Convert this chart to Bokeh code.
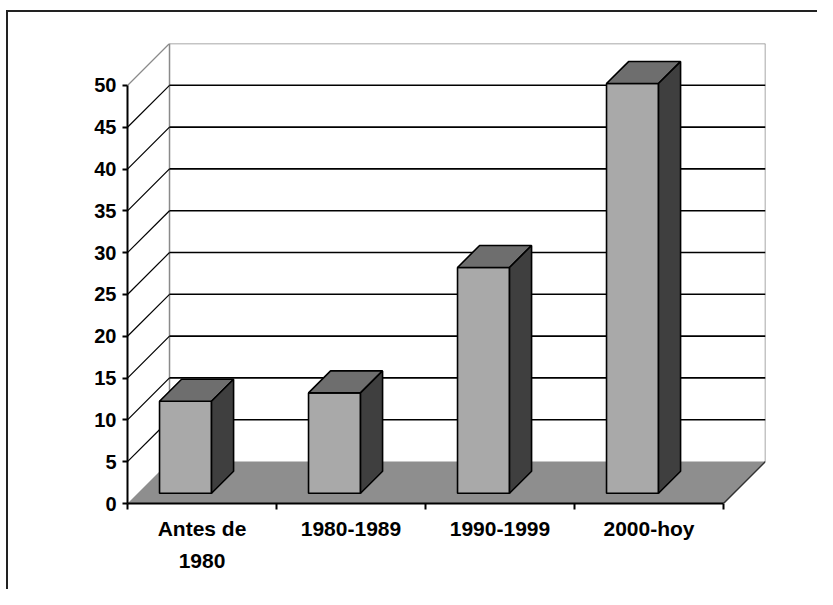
from bokeh.plotting import figure
from bokeh.models import Range1d, FixedTicker, LinearAxis, ColumnDataSource
from bokeh.embed import file_html
from bokeh.resources import INLINE

# ---- data ----
categories = ["Antes de 1980", "1980-1989", "1990-1999", "2000-hoy"]
label_line1 = ["Antes de", "1980-1989", "1990-1999", "2000-hoy"]
label_line2 = ["1980", "", "", ""]
values = [11, 12, 27, 49]
y_ticks = [0, 5, 10, 15, 20, 25, 30, 35, 40, 45, 50]

# ---- 3D geometry (data units) ----
N = len(categories)
YMAX = y_ticks[-1]
DX, DY = 0.282, 5.02          # back-wall depth offset
BAR_OFF, BAR_W = 0.215, 0.349 # front face position inside a category
BAR_BASE = 1.23               # front face bottom (depth shift)
BDX, BDY = 0.148, 2.63        # bar depth

FONT = "Liberation Sans"

p = figure(width=817, height=589, output_backend="svg", toolbar_location=None,
           x_range=Range1d(0, N + DX), y_range=Range1d(0, YMAX + DY),
           x_axis_type=None, y_axis_type=None,
           min_border_left=127, min_border_right=52, min_border_top=43, min_border_bottom=86)
p.outline_line_color = None
p.background_fill_color = "white"
p.border_fill_color = None
p.styles = {"box-shadow": ("inset 0px 10px 0px 0px #ffffff, inset 6px 0px 0px 0px #ffffff, "
                           "inset 0px 12px 0px 0px #222222, inset 8px 0px 0px 0px #222222")}

wall = "#8a8a8a"
# back wall frame
p.segment(x0=[DX, N + DX, DX], y0=[DY, DY, YMAX + DY], x1=[DX, N + DX, N + DX],
          y1=[YMAX + DY, YMAX + DY, YMAX + DY], line_color=wall, line_width=1.5)
# back wall gridlines
g = y_ticks[1:-1]
p.segment(x0=[DX] * len(g), y0=[v + DY for v in g], x1=[N + DX] * len(g),
          y1=[v + DY for v in g], line_color="black", line_width=1.6)
# left wall diagonals
p.segment(x0=[0] * len(g), y0=g, x1=[DX] * len(g), y1=[v + DY for v in g],
          line_color="black", line_width=1.2)
p.segment(x0=[0], y0=[YMAX], x1=[DX], y1=[YMAX + DY], line_color=wall, line_width=1.2)
# floor
p.patch(x=[0, N, N + DX, DX], y=[0, 0, DY, DY], fill_color="#8e8e8e", line_color=None)
p.segment(x0=[N], y0=[0], x1=[N + DX], y1=[DY], line_color="#333333", line_width=1.5)

# bars
left = [i + BAR_OFF for i in range(N)]
right = [l + BAR_W for l in left]
top = [BAR_BASE + v for v in values]
src = ColumnDataSource(dict(left=left, right=right, bottom=[BAR_BASE] * N, top=top))
p.quad(left="left", right="right", bottom="bottom", top="top", source=src,
       fill_color="#a9a9a9", line_color="black", line_width=1.6)
top_xs = [[l, r, r + BDX, l + BDX] for l, r in zip(left, right)]
top_ys = [[t, t, t + BDY, t + BDY] for t in top]
p.patches(xs=top_xs, ys=top_ys, fill_color="#6e6e6e", line_color="black", line_width=1.6)
side_xs = [[r, r + BDX, r + BDX, r] for r in right]
side_ys = [[BAR_BASE, BAR_BASE + BDY, t + BDY, t] for t in top]
p.patches(xs=side_xs, ys=side_ys, fill_color="#3f3f3f", line_color="black", line_width=1.6)

# y axis
ya = LinearAxis(ticker=FixedTicker(ticks=y_ticks, minor_ticks=[]), bounds=(0, YMAX))
ya.axis_line_color = "black"
ya.axis_line_width = 2
ya.major_tick_line_color = "black"
ya.major_tick_line_width = 2
ya.major_tick_out = 5
ya.major_tick_in = 0
ya.minor_tick_line_color = None
ya.major_label_standoff = 6
ya.major_label_text_font = FONT
ya.major_label_text_font_style = "bold"
ya.major_label_text_font_size = "20px"
ya.major_label_text_color = "black"
p.add_layout(ya, "left")

# x axis (first label line + boundary ticks)
centers = [i + 0.5 for i in range(N)]
xa = LinearAxis(ticker=FixedTicker(ticks=centers, minor_ticks=list(range(N + 1))),
                bounds=(0, N))
xa.major_label_overrides = {c: t for c, t in zip(centers, label_line1)}
xa.axis_line_color = "black"
xa.axis_line_width = 2
xa.major_tick_line_color = None
xa.major_tick_out = 0
xa.major_tick_in = 0
xa.minor_tick_line_color = "black"
xa.minor_tick_line_width = 2
xa.minor_tick_out = 6
xa.minor_tick_in = 0
xa.major_label_standoff = 7
xa.major_label_text_font = FONT
xa.major_label_text_font_style = "bold"
xa.major_label_text_font_size = "21px"
xa.major_label_text_color = "black"
p.add_layout(xa, "below")

# x axis second label line
xb = LinearAxis(ticker=FixedTicker(ticks=centers, minor_ticks=[]), bounds=(0, N))
xb.major_label_overrides = {c: t for c, t in zip(centers, label_line2)}
xb.axis_line_color = None
xb.major_tick_line_color = None
xb.major_tick_out = 0
xb.major_tick_in = 0
xb.minor_tick_line_color = None
xb.major_label_standoff = 11
xb.major_label_text_font = FONT
xb.major_label_text_font_style = "bold"
xb.major_label_text_font_size = "21px"
xb.major_label_text_color = "black"
p.add_layout(xb, "below")

open("out.html", "w").write(file_html(p, INLINE))
